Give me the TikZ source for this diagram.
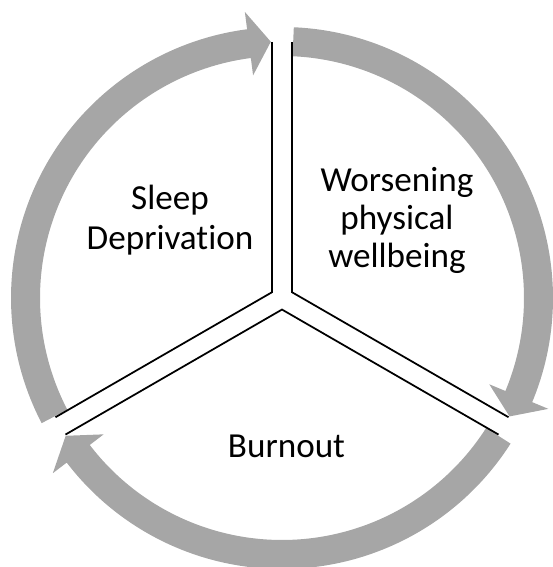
\documentclass[tikz,border=0pt]{standalone}
\usepackage{fontspec}
\setmainfont{Carlito}[Ligatures=NoCommon]
\usetikzlibrary{calc}
\definecolor{ringgray}{RGB}{166,166,166}

\begin{document}
\begin{tikzpicture}[x=0.02cm, y=0.02cm,
    arrowband/.style={fill=ringgray},
    divider/.style={draw=black, line width=1pt, line join=miter},
    label/.style={align=center, anchor=base, inner sep=0pt}]
  \useasboundingbox (-282,-269) rectangle (271,298);
  \coordinate (c) at (0,0);
  % the three curved arrows, running clockwise
  \foreach \s/\t in {207.5/92.5, 87.5/-27.5, -32.5/-147.5} {
    \pgfmathsetmacro\b{\t+4.9}
    \fill[arrowband] ($(c)+(\s:271)$) arc[start angle=\s, end angle=\b, radius=271]
      -- ($(c)+(\b:288.5)$) -- ($(c)+(\t:256.5)$) -- ($(c)+(\b:224.5)$) -- ($(c)+(\b:242)$)
      arc[start angle=\b, end angle=\s, radius=242] -- cycle;
  }
  % outlines of the three sectors
  \foreach \m in {150, 30, 270} {
    \draw[divider] ($(c)+(\m-57.76:256)$) -- ($(c)+(\m:11.55)$) -- ($(c)+(\m+57.76:256)$);
  }
  % base anchor sits on the last line
  \node[label, font=\fontsize{20}{22.8}\selectfont] (sleep) at (-112,48) {Sleep\\Deprivation};
  \node[label, font=\fontsize{20}{21.9}\selectfont] (worsening) at (115,30) {Worsening\\physical\\wellbeing};
  \node[label, font=\fontsize{20}{21.9}\selectfont] (burnout) at (4.5,-159) {Burnout};
\end{tikzpicture}
\end{document}
